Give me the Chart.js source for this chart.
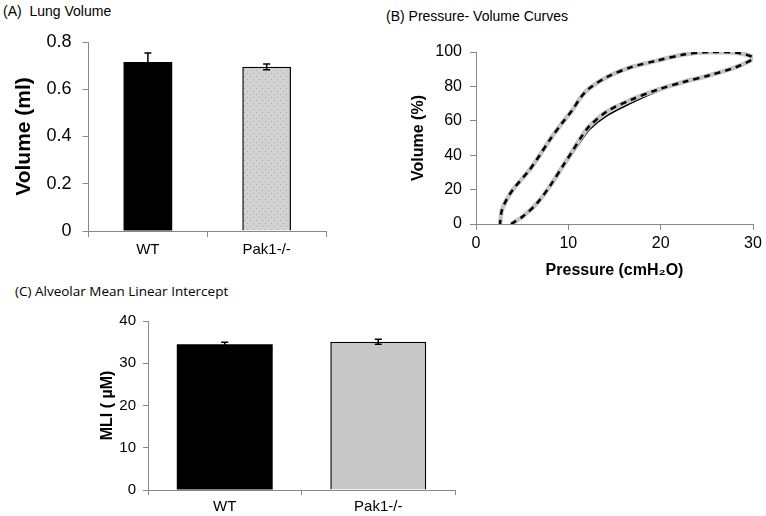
<!DOCTYPE html>
<html>
<head>
<meta charset="utf-8">
<script src="https://cdn.jsdelivr.net/npm/chart.js@4.4.0/dist/chart.umd.min.js"></script>
<style>
    body { margin: 0; background: #fff; width: 766px; height: 516px; position: relative; overflow: hidden; font-family: 'Liberation Sans', Arial, sans-serif; }
    .panel { position: absolute; }
    .ttl { position: absolute; font-size: 14px; line-height: 16px; color: #000; white-space: pre; }
</style>
</head>
<body>
<div class="ttl" style="left:3px;top:3px">(A)  Lung Volume</div>
<div class="ttl" style="left:386px;top:8px">(B) Pressure- Volume Curves</div>
<div class="ttl" style="left:15px;top:283px;font-family:'Open Sans',sans-serif;font-size:13.5px">(C) Alveolar Mean Linear Intercept</div>

<div class="panel" style="left:0;top:0;width:340px;height:280px"><canvas id="lungVolumeChart"></canvas></div>
<div class="panel" style="left:390px;top:30px;width:376px;height:254px"><canvas id="pvChart"></canvas></div>
<div class="panel" style="left:0;top:300px;width:470px;height:216px"><canvas id="mliChart"></canvas></div>

<script>
// Data
const groups = ['WT', 'Pak1-/-'];
const lungVolume = [0.715, 0.695];
const lungVolumeErr = [0.038, 0.012];
const mli = [34.5, 35.1];
const mliErr = [0.45, 0.6];

// Pressure-volume loops: inflation limb then deflation limb
const wtPressure = [3.8, 5.1, 6.6, 8.0, 9.5, 10.4, 11.4, 12.3, 14.2, 16.7, 19.6, 22.5, 25.3, 28.2, 30,
    28.2, 25.3, 22.5, 19.6, 16.7, 14.2, 12.3, 11.4, 10.4, 9.3, 8.0, 6.9, 5.8, 4.0, 3.3, 2.8, 2.6];
const wtVolume = [0, 4, 11.5, 21.5, 33.5, 40.5, 48.5, 55, 63, 70, 77, 82.5, 86.5, 91.3, 96.5,
    99.6, 100, 98.5, 95, 91, 85.5, 79, 74, 66, 58.5, 49, 40, 31.5, 20, 14, 8, 0];
const pakPressure = [3.8, 5.1, 6.6, 8.0, 9.5, 10.4, 11.4, 12.3, 14.2, 16.7, 19.6, 22.5, 25.3, 28.2, 30,
    28.2, 25.3, 22.5, 19.6, 16.7, 14.2, 12.3, 11.4, 10.4, 9.3, 8.0, 6.9, 5.8, 4.0, 3.3, 2.8, 2.6];
const pakVolume = [0, 4.5, 12, 22, 34.5, 42, 50.5, 57, 65.5, 72, 78, 82.6, 86.5, 91.3, 96.5,
    99.6, 100, 98.5, 95, 91, 85.5, 79, 74, 66, 58.5, 49, 40, 31.5, 20, 14, 8, 0];

const fontFamily = "'Liberation Sans', Arial, sans-serif";
Chart.defaults.font.family = fontFamily;
Chart.defaults.color = '#000';
Chart.defaults.animation = false;

// gray fill with a light dot grid for the knockout bar in panel A
function dotPattern() {
    const c = document.createElement('canvas');
    c.width = 6; c.height = 6;
    const g = c.getContext('2d');
    g.fillStyle = '#d2d2d2';
    g.fillRect(0, 0, 6, 6);
    g.fillStyle = '#a8a8a8';
    g.fillRect(1, 1, 1, 1);
    g.fillRect(4, 4, 1, 1);
    return g.createPattern(c, 'repeat');
}

// draws mean +/- error whiskers on top of each bar
const errorBars = {
    id: 'errorBars',
    afterDatasetsDraw(chart, args, opts) {
        if (!opts.errors) return;
        const ctx = chart.ctx;
        const y = chart.scales.y;
        const values = chart.data.datasets[0].data;
        chart.getDatasetMeta(0).data.forEach((bar, i) => {
            const top = y.getPixelForValue(values[i] + opts.errors[i]);
            const bot = y.getPixelForValue(values[i] - opts.errors[i]);
            ctx.save();
            ctx.strokeStyle = '#000';
            ctx.lineWidth = 1.5;
            ctx.beginPath();
            ctx.moveTo(bar.x, top); ctx.lineTo(bar.x, bot);
            ctx.moveTo(bar.x - 3.5, top); ctx.lineTo(bar.x + 3.5, top);
            ctx.moveTo(bar.x - 3.5, bot); ctx.lineTo(bar.x + 3.5, bot);
            ctx.stroke();
            ctx.restore();
        });
    }
};

const axisGrid = { drawOnChartArea: false, tickLength: 6, color: '#888' };
const axisBorder = { color: '#888', width: 1 };

// (A) Lung volume
new Chart(document.getElementById('lungVolumeChart'), {
    type: 'bar',
    data: {
        labels: groups,
        datasets: [{
            data: lungVolume,
            backgroundColor: ['#000', dotPattern()],
            borderColor: '#000',
            borderWidth: [0, 1.5],
            barPercentage: 0.41,
            categoryPercentage: 1
        }]
    },
    options: {
        responsive: true,
        maintainAspectRatio: false,
        layout: { padding: { top: 42, right: 14, left: 0, bottom: 0 } },
        plugins: {
            legend: { display: false },
            tooltip: { enabled: false },
            errorBars: { errors: lungVolumeErr }
        },
        scales: {
            x: {
                grid: axisGrid,
                border: axisBorder,
                ticks: { font: { size: 15 }, padding: 4 },
                afterFit: s => { s.height = 49; }
            },
            y: {
                min: 0, max: 0.8,
                ticks: { stepSize: 0.2, font: { size: 18 }, padding: 11 },
                grid: axisGrid,
                border: axisBorder,
                title: {
                    display: true, text: 'Volume (ml)',
                    font: { size: 21, weight: 'bold' },
                    padding: { top: 12, bottom: 0 }
                },
                afterFit: s => { s.width = 88.5; }
            }
        }
    },
    plugins: [errorBars]
});

// (B) Pressure-volume curves
const toPoints = (xs, ys) => xs.map((x, i) => ({ x: x, y: ys[i] }));
new Chart(document.getElementById('pvChart'), {
    type: 'scatter',
    data: {
        datasets: [{
            label: 'WT',
            data: toPoints(wtPressure, wtVolume),
            showLine: true,
            borderColor: '#000',
            borderWidth: 1.5,
            pointRadius: 0,
            tension: 0.3,
            order: 3
        }, {
            label: 'Pak1-/-',
            data: toPoints(pakPressure, pakVolume),
            showLine: true,
            borderColor: '#c4c4c4',
            borderWidth: 4.5,
            pointRadius: 0,
            tension: 0.3,
            order: 2
        }, {
            label: 'Pak1-/- dashes',
            data: toPoints(pakPressure, pakVolume),
            showLine: true,
            borderColor: '#000',
            borderWidth: 2.5,
            borderDash: [6, 5],
            pointRadius: 0,
            tension: 0.3,
            order: 1
        }]
    },
    options: {
        responsive: true,
        maintainAspectRatio: false,
        layout: { padding: { top: 22, right: 13, left: 0, bottom: 0 } },
        plugins: {
            legend: { display: false },
            tooltip: { enabled: false }
        },
        scales: {
            x: {
                type: 'linear',
                min: 0, max: 30,
                ticks: { stepSize: 10, font: { size: 16 }, padding: 4 },
                grid: axisGrid,
                border: axisBorder,
                title: {
                    display: true, text: 'Pressure (cmH\u2082O)',
                    font: { size: 16, weight: 'bold' },
                    padding: { top: 0, bottom: 4 }
                },
                afterFit: s => { s.height = 60; }
            },
            y: {
                min: 0, max: 100,
                ticks: { stepSize: 20, font: { size: 16 }, padding: 8 },
                grid: axisGrid,
                border: axisBorder,
                title: {
                    display: true, text: 'Volume (%)',
                    font: { size: 16, weight: 'bold' },
                    padding: { top: 19, bottom: 0 }
                },
                afterFit: s => { s.width = 86; }
            }
        }
    }
});

// (C) Alveolar mean linear intercept
new Chart(document.getElementById('mliChart'), {
    type: 'bar',
    data: {
        labels: groups,
        datasets: [{
            data: mli,
            backgroundColor: ['#000', '#c8c8c8'],
            borderColor: '#000',
            borderWidth: [0, 1.5],
            barPercentage: 0.625,
            categoryPercentage: 1
        }]
    },
    options: {
        responsive: true,
        maintainAspectRatio: false,
        layout: { padding: { top: 21, right: 15, left: 0, bottom: 0 } },
        plugins: {
            legend: { display: false },
            tooltip: { enabled: false },
            errorBars: { errors: mliErr }
        },
        scales: {
            x: {
                grid: { drawOnChartArea: false, tickLength: 5, color: '#888' },
                border: axisBorder,
                ticks: { font: { size: 15 }, padding: 3 },
                afterFit: s => { s.height = 26; }
            },
            y: {
                min: 0, max: 40,
                ticks: { stepSize: 10, font: { size: 15 }, padding: 7 },
                grid: { drawOnChartArea: false, tickLength: 5, color: '#888' },
                border: axisBorder,
                title: {
                    display: true, text: 'MLI ( \u00b5M)',
                    font: { size: 16, weight: 'bold' },
                    padding: { top: 98, bottom: 0 }
                },
                afterFit: s => { s.width = 148; }
            }
        }
    },
    plugins: [errorBars]
});
</script>
</body>
</html>
